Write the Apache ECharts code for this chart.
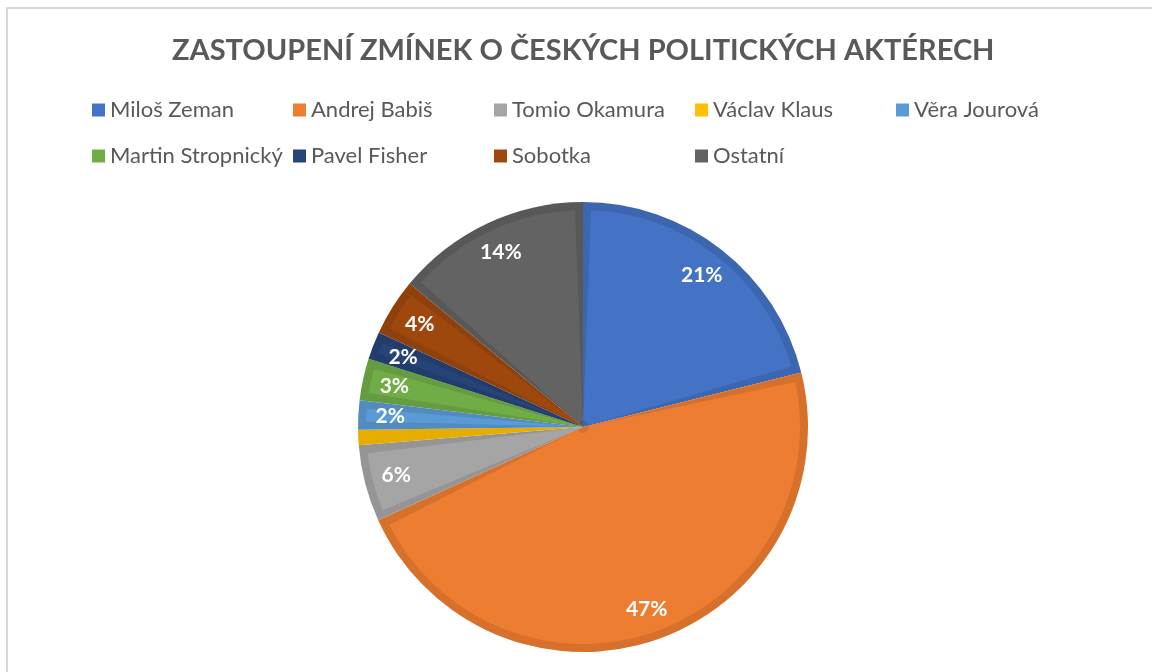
<!DOCTYPE html>
<html><head><meta charset="utf-8">
<script src="https://cdn.jsdelivr.net/npm/echarts@6/dist/echarts.min.js"></script>
<style>html,body{margin:0;padding:0;background:#fff}#c{width:1152px;height:672px}</style>
</head><body><div id="c"></div>
<script>
const titleText = 'ZASTOUPENÍ ZMÍNEK O ČESKÝCH POLITICKÝCH AKTÉRECH';
const names = ['Miloš Zeman', 'Andrej Babiš', 'Tomio Okamura', 'Václav Klaus', 'Věra Jourová', 'Martin Stropnický', 'Pavel Fisher', 'Sobotka', 'Ostatní'];
const shares = [21.1, 47.1, 5.5, 1.1, 2.1, 3.0, 2.0, 4.1, 14.0];
const colors = ['#4472C4', '#ED7D31', '#A5A5A5', '#FFC000', '#5B9BD5', '#70AD47', '#264478', '#9E480E', '#636363'];
const bandColors = ['#3D66B0', '#D6702B', '#959595', '#E6AC00', '#528BC0', '#659C40', '#223D6B', '#8E410C', '#585858'];

const FONT = 'Lato';
const CX = 583, CY = 427, R = 225;

const lightData = names.map((n, i) => ({ name: n, value: shares[i], itemStyle: { color: colors[i] } }));
const darkData = names.map((n, i) => ({ name: n, value: shares[i], itemStyle: { color: bandColors[i] } }));
const labelData = names.map((n, i) => ({ name: n, value: shares[i] }));

const chart = echarts.init(document.getElementById('c'), null, { renderer: 'canvas' });
const legendCommon = {
  orient: 'horizontal', icon: 'rect', itemWidth: 13, itemHeight: 13, itemGap: 3, padding: 0,
  textStyle: { fontFamily: FONT, fontSize: 22, color: '#595959', width: 180, lineHeight: 22 },
  selectedMode: false
};
chart.setOption({
  animation: false,
  backgroundColor: '#ffffff',
  title: {
    text: titleText, left: 172, top: 36, padding: 0,
    textStyle: { fontFamily: FONT, fontWeight: 'bold', fontSize: 29, color: '#595959' }
  },
  legend: [
    Object.assign({}, legendCommon, { left: 92, top: 99, data: names.slice(0, 5).map((n, i) => ({ name: n, itemStyle: { color: colors[i] } })) }),
    Object.assign({}, legendCommon, { left: 92, top: 145, data: names.slice(5).map((n, i) => ({ name: n, itemStyle: { color: colors[i + 5] } })) })
  ],
  graphic: [{
    type: 'rect', silent: true, z: -1,
    shape: { x: 7, y: 8, width: 1300, height: 800 },
    style: { fill: 'none', stroke: '#D9D9D9', lineWidth: 2 }
  }],
  series: [
    {
      name: 'light', type: 'pie', z: 3, center: [CX, CY], radius: [6, R - 8],
      startAngle: 90, clockwise: true, padAngle: 4.2, avoidLabelOverlap: false,
      label: { show: false }, labelLine: { show: false }, silent: true,
      data: lightData
    },
    {
      name: 'band', type: 'pie', z: 2, center: [CX, CY], radius: [0, R],
      startAngle: 90, clockwise: true, avoidLabelOverlap: false,
      label: { show: false }, labelLine: { show: false }, silent: true,
      data: darkData
    },
    {
      name: 'labels', type: 'pie', z: 4, center: [CX, CY], radius: [155, R],
      startAngle: 90, clockwise: true, avoidLabelOverlap: false, silent: true,
      itemStyle: { color: 'rgba(0,0,0,0)' },
      label: {
        show: true, position: 'inside', color: '#ffffff', fontFamily: FONT, fontWeight: 'bold', fontSize: 21,
        formatter: p => Math.round(p.percent) + '%'
      },
      labelLine: { show: false },
      data: labelData
    }
  ]
});
</script>
</body></html>
